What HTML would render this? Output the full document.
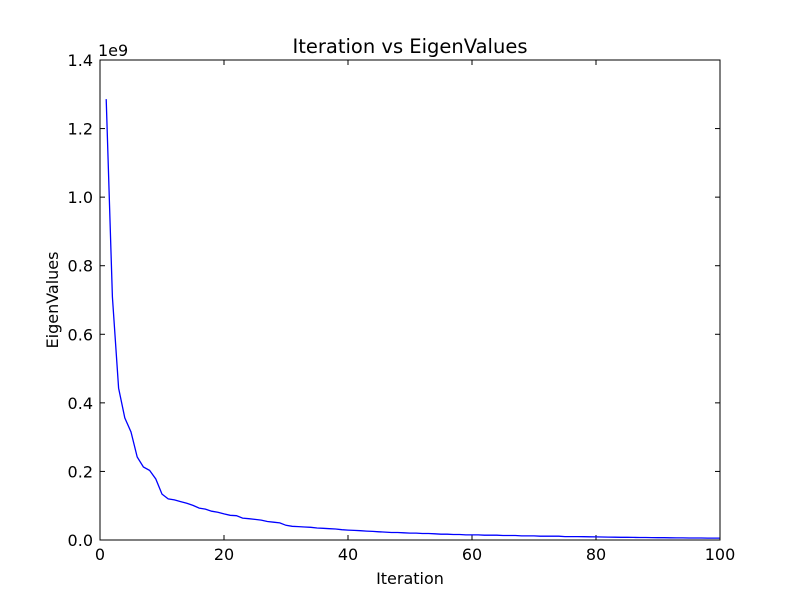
<!DOCTYPE html>
<html><head><meta charset="utf-8"><style>
body{margin:0;background:#fff}
svg{display:block;font-family:"DejaVu Sans","Liberation Sans",sans-serif}
</style></head><body>
<svg id="chart" width="800" height="600">
<rect x="0" y="0" width="800" height="600" fill="#fff"/>
<text x="410" y="53" font-size="19.5" text-anchor="middle">Iteration vs EigenValues</text>
<text x="410" y="584" font-size="16" text-anchor="middle">Iteration</text>
<text x="58" y="300" font-size="16" text-anchor="middle" transform="rotate(-90 58 300)">EigenValues</text>
<text x="98" y="56" font-size="16">1e9</text>
<g id="ticks"></g>
<path id="line" fill="none" stroke="#0000ff" stroke-width="1.3"/>
<rect x="100" y="60" width="620" height="480" fill="none" stroke="#000" stroke-width="1"/>
</svg>
<script>
const iterations = Array.from({length:100},(_, i)=>i+1);
const eigenValues = [1.286,0.709,0.443,0.356,0.315,0.242,0.213,0.203,0.178,0.134,
0.120,0.117,0.112,0.107,0.101,0.093,0.090,0.084,0.081,0.076,
0.072,0.071,0.064,0.062,0.060,0.058,0.054,0.052,0.050,0.043,
0.040,0.039,0.038,0.037,0.035,0.034,0.033,0.032,0.030,0.029,
0.028,0.027,0.026,0.025,0.024,0.023,0.022,0.022,0.021,0.020,
0.020,0.019,0.019,0.018,0.017,0.017,0.016,0.016,0.015,0.015,
0.015,0.014,0.014,0.014,0.013,0.013,0.013,0.012,0.012,0.012,
0.011,0.011,0.011,0.011,0.010,0.010,0.010,0.0095,0.0093,0.0090,
0.0088,0.0085,0.0083,0.0080,0.0078,0.0076,0.0074,0.0072,0.0070,0.0068,
0.0066,0.0064,0.0062,0.0060,0.0059,0.0058,0.0057,0.0056,0.0055,0.0054];
const xTicks = [0,20,40,60,80,100];
const yTicks = [0.0,0.2,0.4,0.6,0.8,1.0,1.2,1.4];
const X = v => 100 + v/100*620;
const Y = v => 540 - v/1.4*480;
const ns = "http://www.w3.org/2000/svg";
const g = document.getElementById('ticks');
function mk(tag, attrs){const e=document.createElementNS(ns,tag);for(const k in attrs)e.setAttribute(k,attrs[k]);g.appendChild(e);return e;}
xTicks.forEach(t=>{
  const x=X(t);
  const a=mk('line',{x1:x,x2:x,y1:540,y2:535,stroke:'#000'});
  
  
  const b=mk('line',{x1:x,x2:x,y1:60,y2:65,stroke:'#000'});
  
  
  const l=mk('text',{x:x,y:560,'font-size':16,'text-anchor':'middle'});
  l.textContent=t;
  
  
});
yTicks.forEach(t=>{
  const y=Y(t);
  const a=mk('line',{x1:100,x2:105,y1:y,y2:y,stroke:'#000'});
  
  
  const b=mk('line',{x1:715,x2:720,y1:y,y2:y,stroke:'#000'});
  
  
  const l=mk('text',{x:93,y:y+6,'font-size':16,'text-anchor':'end'});
  l.textContent=t.toFixed(1);
  
  
});
document.getElementById('line').setAttribute('d', iterations.map((it,i)=>(i?'L':'M')+X(it).toFixed(1)+' '+Y(eigenValues[i]).toFixed(1)).join(' '));
</script>
</body></html>
